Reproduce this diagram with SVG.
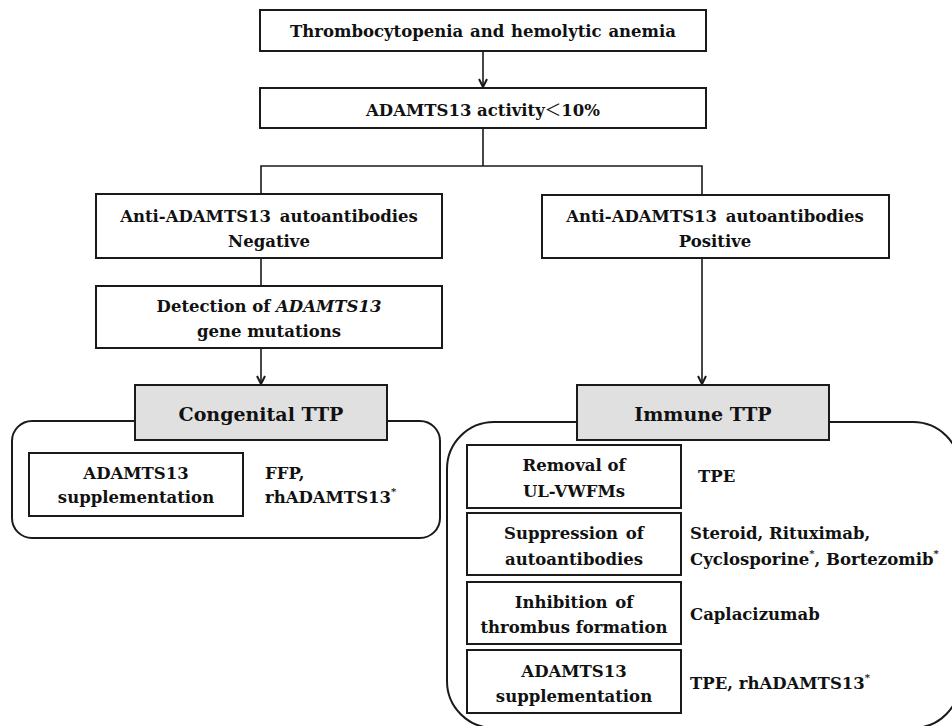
<svg xmlns="http://www.w3.org/2000/svg" width="952" height="726" viewBox="0 0 952 726">
<style>
.box{fill:#fff;stroke:#1a1a1a;stroke-width:2}
.gbox{fill:#e0e0e0;stroke:#1a1a1a;stroke-width:2}
.cont{fill:#fff;stroke:#1a1a1a;stroke-width:2}
.ln{fill:none;stroke:#1a1a1a;stroke-width:1.6}
.ah{fill:none;stroke:#1a1a1a;stroke-width:2}
text{font-family:'DejaVu Serif',serif;font-weight:bold;fill:#111;font-size:16.5px}
.c{text-anchor:middle}
.big{font-size:19px}
.sup{font-size:10px}
.lt{font-family:'Noto Sans CJK JP','DejaVu Serif',serif;font-weight:normal}
</style>
<rect width="952" height="726" fill="#fff"/>
<g id="connectors">
<line class="ln" x1="483" y1="51" x2="483" y2="87"/>
<polyline class="ah" points="479,79 483,87 487,79"/>
<polyline class="ln" points="483,128 483,166"/>
<polyline class="ln" points="261,194 261,166 702,166 702,195"/>
<line class="ln" x1="261" y1="258" x2="261" y2="286"/>
<line class="ln" x1="261" y1="348" x2="261" y2="384"/>
<polyline class="ah" points="257,376 261,384 265,376"/>
<line class="ln" x1="702" y1="258" x2="702" y2="384"/>
<polyline class="ah" points="698,376 702,384 706,376"/>
</g>
<g id="n1">
<rect class="box" x="260" y="10" width="446" height="41"/>
<text class="c" x="483" y="37" word-spacing="1">Thrombocytopenia and hemolytic anemia</text>
</g>
<g id="n2">
<rect class="box" x="260" y="88" width="446" height="40"/>
<text class="c" x="483" y="116">ADAMTS13 activity<tspan class="lt">＜</tspan>10%</text>
</g>
<g id="n3">
<rect class="box" x="96" y="194" width="346" height="64"/>
<text class="c" x="269" y="222" word-spacing="3">Anti-ADAMTS13 autoantibodies</text>
<text class="c" x="269" y="247">Negative</text>
</g>
<g id="n4">
<rect class="box" x="542" y="195" width="347" height="63"/>
<text class="c" x="715" y="222" word-spacing="3">Anti-ADAMTS13 autoantibodies</text>
<text class="c" x="715" y="247">Positive</text>
</g>
<g id="n5">
<rect class="box" x="96" y="286" width="346" height="62"/>
<text class="c" x="269" y="312">Detection of <tspan font-style="italic">ADAMTS13</tspan></text>
<text class="c" x="269" y="337">gene mutations</text>
</g>
<g id="congenital">
<rect class="cont" x="12" y="421" width="428" height="117" rx="20"/>
<rect class="gbox" x="135" y="385" width="252" height="55"/>
<text class="c big" x="261" y="421">Congenital TTP</text>
<rect class="box" x="29" y="453" width="214" height="63"/>
<text class="c" x="136" y="479">ADAMTS13</text>
<text class="c" x="136" y="503">supplementation</text>
<text x="265" y="479">FFP,</text>
<text x="265" y="503">rhADAMTS13<tspan class="sup" dy="-8">*</tspan></text>
</g>
<g id="immune">
<rect class="cont" x="447" y="422" width="513" height="306" rx="47"/>
<rect class="gbox" x="577" y="385" width="252" height="55"/>
<text class="c big" x="703" y="421">Immune TTP</text>
<rect class="box" x="467" y="445" width="214" height="63"/>
<text class="c" x="574" y="471">Removal of</text>
<text class="c" x="574" y="497">UL-VWFMs</text>
<text x="698" y="482">TPE</text>
<rect class="box" x="467" y="513" width="214" height="62"/>
<text class="c" x="574" y="539" word-spacing="2">Suppression of</text>
<text class="c" x="574" y="565">autoantibodies</text>
<text x="690" y="539">Steroid, Rituximab,</text>
<text x="690" y="565">Cyclosporine<tspan class="sup" dy="-8">*</tspan><tspan dy="8">, Bortezomib</tspan><tspan class="sup" dy="-8">*</tspan></text>
<rect class="box" x="467" y="582" width="214" height="62"/>
<text class="c" x="574" y="608" word-spacing="2">Inhibition of</text>
<text class="c" x="574" y="633">thrombus formation</text>
<text x="690" y="620">Caplacizumab</text>
<rect class="box" x="467" y="650" width="214" height="63"/>
<text class="c" x="574" y="677">ADAMTS13</text>
<text class="c" x="574" y="702">supplementation</text>
<text x="690" y="689">TPE, rhADAMTS13<tspan class="sup" dy="-8">*</tspan></text>
</g>
</svg>
